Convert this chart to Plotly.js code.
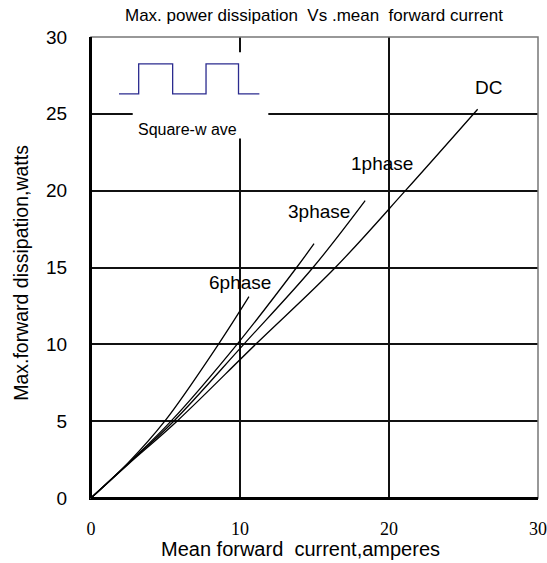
<!DOCTYPE html>
<html>
<head>
<meta charset="utf-8">
<script src="https://cdn.plot.ly/plotly-3.0.1.min.js"></script>
<style>html,body{margin:0;padding:0;background:#fff;}#chart{width:547px;height:563px;}</style>
</head>
<body>
<div id="chart"></div>
<script>
// Curve data (Mean forward current [A] -> Max forward dissipation [W])
const dcX = [0, 2.5, 5.77, 11.05, 16.4, 21.1, 25.95];
const dcY = [0, 2.2, 5, 10, 15, 20, 25.3];
const ph1X = [0, 2.5, 5.55, 10.25, 14.9, 18.4];
const ph1Y = [0, 2.25, 5, 10, 15, 19.35];
const ph3X = [0, 2.5, 5.37, 9.8, 13.8, 14.97];
const ph3Y = [0, 2.25, 5, 10, 15, 16.55];
const ph6X = [0, 2.5, 4.95, 8.55, 10.6];
const ph6Y = [0, 2.3, 5, 10, 13.1];

// Curve labels
const labelText = ["DC", "1phase", "3phase", "6phase"];
const labelX = [26.65, 19.55, 15.27, 9.98];
const labelY = [26.7, 21.8, 18.67, 14.0];

// Square-wave inset illustration
const waveX = [1.88, 3.2, 3.2, 5.48, 5.48, 7.72, 7.72, 9.9, 9.9, 11.3];
const waveY = [26.3, 26.3, 28.25, 28.25, 26.3, 26.3, 28.25, 28.25, 26.3, 26.3];
const waveLabel = "Square-w ave";

const xTicks = [0, 10, 20, 30];
const yTicks = [0, 5, 10, 15, 20, 25, 30];

const titleText = 'Max. power dissipation  Vs .mean  forward current';
const xTitleText = 'Mean forward  current,amperes';
const yTitleText = 'Max.forward dissipation,watts';

const sans = 'Liberation Sans, Arial, sans-serif';
const curveLine = {color: '#000', width: 1.3, shape: 'spline'};
const traces = [
  {x: dcX, y: dcY, mode: 'lines', line: curveLine, hoverinfo: 'skip'},
  {x: ph1X, y: ph1Y, mode: 'lines', line: curveLine, hoverinfo: 'skip'},
  {x: ph3X, y: ph3Y, mode: 'lines', line: curveLine, hoverinfo: 'skip'},
  {x: ph6X, y: ph6Y, mode: 'lines', line: curveLine, hoverinfo: 'skip'},
  {x: waveX, y: waveY, mode: 'lines', line: {color: '#2b2b8f', width: 1.3}, hoverinfo: 'skip'}
];

const annotations = labelText.map((t, i) => ({
  x: labelX[i], y: labelY[i], xref: 'x', yref: 'y', text: t, showarrow: false,
  font: {family: sans, size: 19, color: '#000'}
}));
annotations.push({
  x: 6.5, y: 24.0, xref: 'x', yref: 'y', text: waveLabel, showarrow: false,
  font: {family: sans, size: 16, color: '#000'}
});
// axis titles placed as annotations to match the reference's offsets
annotations.push({
  x: 0.4676, y: -0.111, xref: 'paper', yref: 'paper', xanchor: 'center', yanchor: 'middle',
  text: xTitleText, showarrow: false, font: {family: sans, size: 20, color: '#000'}
});
annotations.push({
  x: -0.157, y: 0.488, xref: 'paper', yref: 'paper', xanchor: 'center', yanchor: 'middle',
  textangle: -90, text: yTitleText, showarrow: false, font: {family: sans, size: 19.5, color: '#000'}
});

const layout = {
  width: 547, height: 563,
  margin: {l: 91, r: 9, t: 37, b: 65},
  paper_bgcolor: '#fff', plot_bgcolor: '#fff',
  showlegend: false,
  title: {text: titleText, x: 0.574, xanchor: 'center', y: 0.973, yanchor: 'middle',
          font: {family: sans, size: 17, color: '#000'}},
  xaxis: {
    range: [0, 30], tickvals: xTicks, ticktext: xTicks.map(String), showgrid: true,
    gridcolor: '#111', gridwidth: 2, zeroline: false, showline: true, linecolor: '#000', linewidth: 2,
    ticks: '', ticklabelstandoff: 13,
    tickfont: {family: 'Liberation Serif, Times New Roman, serif', size: 18, color: '#000'}
  },
  yaxis: {
    range: [0, 30], tickvals: yTicks, ticktext: yTicks.map(String), showgrid: true,
    gridcolor: '#111', gridwidth: 2, zeroline: false, showline: true, linecolor: '#000', linewidth: 2,
    ticks: '', ticklabelstandoff: 18,
    tickfont: {family: sans, size: 19, color: '#000'}
  },
  shapes: [
    {type: 'rect', xref: 'x', yref: 'y', x0: 2.8, x1: 11.9, y0: 23.4, y1: 29.0,
     fillcolor: '#fff', line: {width: 0}, layer: 'between'},
    {type: 'rect', xref: 'paper', yref: 'paper', x0: 0, x1: 1, y0: 0, y1: 1,
     line: {color: '#777', width: 1.5}, layer: 'above'},
    {type: 'line', xref: 'paper', yref: 'paper', x0: 0, x1: 0, y0: 0, y1: 1,
     line: {color: '#000', width: 2}, layer: 'above'},
    {type: 'line', xref: 'paper', yref: 'paper', x0: 0, x1: 1, y0: 0, y1: 0,
     line: {color: '#000', width: 2}, layer: 'above'}
  ],
  annotations: annotations
};

Plotly.newPlot('chart', traces, layout, {staticPlot: true, displayModeBar: false});
</script>
</body>
</html>
